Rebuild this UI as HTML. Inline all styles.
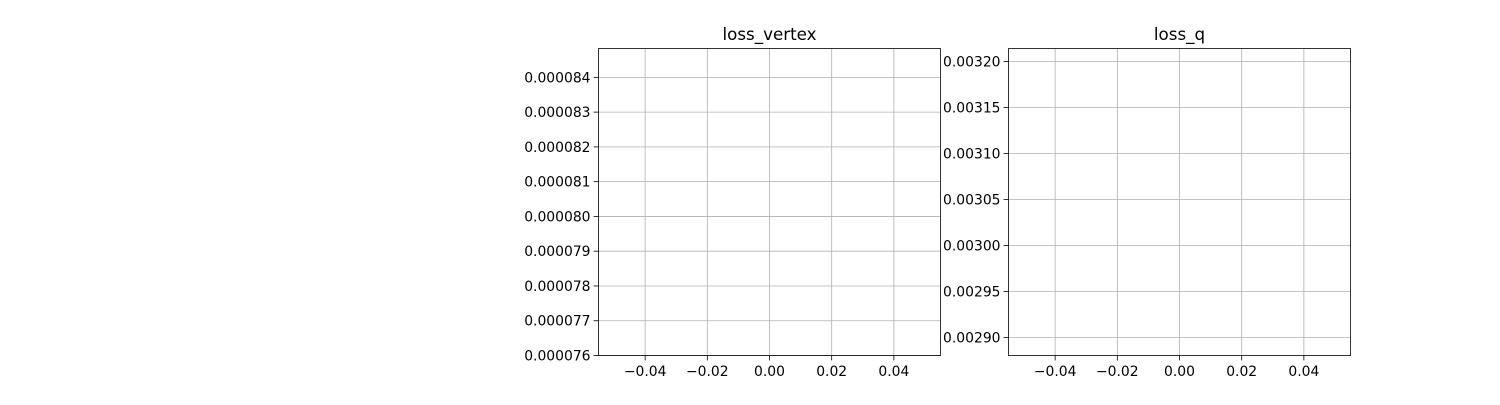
<!DOCTYPE html>
<html><head><meta charset="utf-8">
<style>
html,body{margin:0;padding:0;background:#fff;}
svg text{font-family:"DejaVu Sans","Liberation Sans",sans-serif;fill:#000;}
</style></head>
<body>
<svg id="fig" width="1500" height="400" xmlns="http://www.w3.org/2000/svg"></svg>
<script>
const xTicks = [-0.04, -0.02, 0.00, 0.02, 0.04];
const xTickLabels = ["\u22120.04", "\u22120.02", "0.00", "0.02", "0.04"];
const vertexTicks = [0.000076, 0.000077, 0.000078, 0.000079, 0.000080, 0.000081, 0.000082, 0.000083, 0.000084];
const vertexTickLabels = ["0.000076","0.000077","0.000078","0.000079","0.000080","0.000081","0.000082","0.000083","0.000084"];
const qTicks = [0.00290, 0.00295, 0.00300, 0.00305, 0.00310, 0.00315, 0.00320];
const qTickLabels = ["0.00290","0.00295","0.00300","0.00305","0.00310","0.00315","0.00320"];
const vertexValues = [];
const qValues = [];

const NS = "http://www.w3.org/2000/svg";
const svg = document.getElementById("fig");
function mk(tag, attrs, parent){
  const e = document.createElementNS(NS, tag);
  for (const k in attrs) e.setAttribute(k, attrs[k]);
  (parent||svg).appendChild(e);
  return e;
}
function panel(name, title, left, right, top, bottom, xmin, xmax, ymin, ymax, yt, ytl, values){
  const g = mk("g", {});
  
  
  const sx = v => left + (v - xmin) / (xmax - xmin) * (right - left);
  const sy = v => bottom - (v - ymin) / (ymax - ymin) * (bottom - top);
  xTicks.forEach((t, i) => {
    const x = sx(t);
    const gl = mk("line", {x1:x, x2:x, y1:top, y2:bottom, stroke:"#b0b0b0", "stroke-width":0.8}, g);
    
    
    mk("line", {x1:x, x2:x, y1:bottom, y2:bottom+4.9, stroke:"#000", "stroke-width":0.8}, g);
    const tx = mk("text", {x:x, y:bottom+20.5, "font-size":"13.9px", "text-anchor":"middle"}, g);
    tx.textContent = xTickLabels[i];
    
    
  });
  yt.forEach((t, i) => {
    const y = sy(t);
    const gl = mk("line", {x1:left, x2:right, y1:y, y2:y, stroke:"#b0b0b0", "stroke-width":0.8}, g);
    
    
    mk("line", {x1:left-4.9, x2:left, y1:y, y2:y, stroke:"#000", "stroke-width":0.8}, g);
    const tx = mk("text", {x:left-8, y:y+5, "font-size":"13.9px", "text-anchor":"end"}, g);
    tx.textContent = ytl[i];
    
    
  });
  if (values.length){
    const pts = values.map((v, i) => sx(i) + "," + sy(v)).join(" ");
    const pl = mk("polyline", {points:pts, fill:"none", stroke:"#1f77b4", "stroke-width":1.5}, g);
    
    
  }
  const fr = mk("rect", {x:left, y:top, width:right-left, height:bottom-top, fill:"none", stroke:"#000", "stroke-width":0.8}, g);
  
  
  const tt = mk("text", {x:(left+right)/2, y:top-8.5, "font-size":"16.7px", "text-anchor":"middle"}, g);
  tt.textContent = title;
  
  
}
panel("loss-vertex-panel", "loss_vertex", 598.5, 940.5, 48.5, 355.5, -0.055, 0.055, 0.000076, 0.00008483, vertexTicks, vertexTickLabels, vertexValues);
panel("loss-q-panel", "loss_q", 1008.5, 1350.5, 48.5, 355.5, -0.055, 0.055, 0.0028804, 0.0032141, qTicks, qTickLabels, qValues);
</script>
</body></html>
